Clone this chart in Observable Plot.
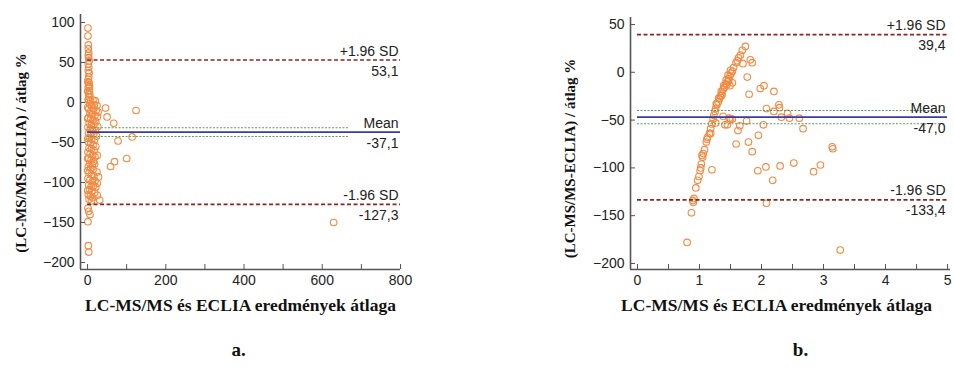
<!DOCTYPE html>
<html><head><meta charset="utf-8">
<script src="https://cdn.jsdelivr.net/npm/d3@7"></script>
<script src="https://cdn.jsdelivr.net/npm/@observablehq/plot@0.6"></script>
<style>
html,body{margin:0;padding:0;background:#fff}
body{width:954px;height:371px;position:relative;overflow:hidden}
#pa,#pb{position:absolute;top:0}
#pa{left:0}#pb{left:480px}
</style></head><body><div id="pa"></div><div id="pb"></div>
<script>
const yTitle = "(LC-MS/MS-ECLIA) / átlag %";
const xTitle = "LC-MS/MS és ECLIA eredmények átlaga";
const refLabels = ["+1.96 SD", "Mean", "-1.96 SD"];

// Panel a
const aRefValues = [53.1, -37.1, -127.3];
const aRefTexts = ["53,1", "-37,1", "-127,3"];
const aCI = [-31.6, -42.5];
const aXTicks = [0, 200, 400, 600, 800];
const aXMinor = [100, 300, 500, 700];
const aYTicks = [100, 50, 0, -50, -100, -150, -200];
const aPoints = [
  [1,93],[1,83],[2,72],[2,67],[3,62],[2,59],[3,56],[4,52],[2,48],[3,44],[2,40],[4,37],[3,32],[2,29],[4,25],[3,22],[2,19],[5,15],[3,11],[4,7],[2,4],[6,10],[5,20],[1,26],[0.5,14],
  [2,3],[8,2],[14,3],[20,2],[5,-2],[11,-4],[17,-3],[24,-4],[3,-8],[9,-10],[15,-8],[22,-10],[27,-12],[6,-14],[12,-15],[19,-16],[25,-18],[2,-19],[8,-21],[14,-22],[21,-24],[4,-26],[10,-28],[17,-27],[26,-30],[1,-31],[7,-33],[13,-34],[20,-35],[3,-38],[9,-40],[16,-39],[23,-42],[5,-44],[11,-46],[18,-47],[2,-49],[8,-51],[14,-53],[21,-55],[4,-57],[10,-58],[17,-60],[25,-66],[1,-62],[7,-64],[13,-66],[19,-68],[3,-70],[9,-72],[15,-74],[6,-76],[12,-78],[18,-77],[2,-80],[8,-82],[14,-84],[24,-87],[4,-88],[10,-90],[16,-92],[28,-93],[1,-95],[6,-97],[12,-99],[19,-98],[25,-101],[3,-103],[9,-105],[15,-104],[21,-106],[5,-109],[11,-111],[18,-113],[2,-115],[7,-117],[13,-119],[25,-116],[31,-122],[4,-121],[10,-123],
  [0.5,-6],[0.5,-45],[0.5,-85],[0.5,-110],[0.5,-20],[0.5,-70],
  [1,-132],[3,-136],[6,-140],[1,-149],[2,-179],[3,-187],
  [46,-7],[50,-18],[67,-26],[78,-48],[114,-43],[124,-10],[100,-70],[69,-74],[59,-80],[629,-150]
];

// Panel b
const bRefValues = [39.4, -47.0, -133.4];
const bRefTexts = ["39,4", "-47,0", "-133,4"];
const bCI = [-40.0, -53.9];
const bXTicks = [0, 1, 2, 3, 4, 5];
const bXMinor = [0.5, 1.5, 2.5, 3.5, 4.5];
const bYTicks = [50, 0, -50, -100, -150, -200];
const bPoints = [
  [0.80,-178],[0.87,-147],[0.90,-136],[0.91,-132],[0.94,-121],[0.97,-113],[0.99,-109],[1.01,-103],[1.02,-100],[1.03,-96],[1.05,-89],[1.06,-85],[1.08,-81],[1.11,-73],[1.13,-68],[1.16,-64],[1.18,-59],[1.20,-54],[1.22,-49],[1.23,-45],[1.25,-41],[1.26,-38],[1.28,-34],[1.30,-31],[1.32,-28],[1.34,-25],[1.36,-22],[1.38,-18],[1.40,-16],[1.42,-12],[1.45,-10],[1.47,-7],[1.49,-4],[1.51,-1],[1.53,1],[1.55,5],[1.59,10],[1.61,12],[1.63,15],[1.66,18],[1.69,23],[1.74,27],
  [1.27,-33],[1.31,-27],[1.35,-20],[1.39,-14],[1.43,-8],[1.46,-3],[1.50,2],[1.36,-24],[1.44,-13],[1.18,-64],[1.12,-70],[1.04,-87],[0.89,-134],
  [1.82,13],[1.85,10],[1.70,9],[1.77,-5],[1.80,-23],[1.98,-17],[2.04,-14],[2.20,-20],[2.08,-38],[2.20,-41],[2.28,-34],[2.29,-37],[2.32,-47],[2.42,-43],[2.45,-48],[2.61,-48],[2.67,-59],[2.03,-55],[1.76,-51],[1.65,-56],[1.62,-61],[1.59,-75],[1.79,-73],[1.85,-83],[1.95,-66],[2.07,-99],[1.94,-103],[2.18,-113],[2.30,-98],[2.52,-95],[2.84,-104],[2.95,-97],[3.14,-78],[3.15,-80],[3.27,-186],[2.08,-137],[1.20,-102],[1.45,-55],[1.41,-55],[1.38,-46],[1.50,-49],[1.53,-49],[1.48,-48],[1.26,-53],[1.53,-11],[1.49,-14],[1.47,-9]
];

const ORANGE = "#f28a42", DARKRED = "#8e2323", BLUE = "#3a3aa8", GREEN = "#5e9a5e", AXIS = "#555";
const SANS = "'Liberation Sans', Arial, sans-serif", SERIF = "'Liberation Serif', 'Times New Roman', serif";

function panel(o) {
  const refs = refLabels.map((l, i) => ({label: l, y: o.refValues[i], text: o.refTexts[i]}));
  return Plot.plot({
    width: o.width, height: 371,
    marginLeft: o.mLeft, marginRight: o.mRight, marginTop: o.mTop, marginBottom: 102,
    x: {domain: o.xDomain}, y: {domain: o.yDomain},
    style: {fontFamily: SANS, fontSize: "14px", color: "#222", background: "#fff"},
    marks: [
      Plot.dot(o.points, {x: d => d[0], y: d => d[1], r: 3.3, stroke: ORANGE, strokeWidth: 1.1}),
      Plot.ruleY(o.ci, {x1: () => 0, x2: () => o.ciEnd, stroke: GREEN, strokeWidth: 1.1, strokeDasharray: "2,1.5"}),
      Plot.ruleY([o.refValues[0], o.refValues[2]], {x1: () => 0, x2: () => o.xEnd, stroke: DARKRED, strokeWidth: 1.7, strokeDasharray: "4,2.5"}),
      Plot.ruleY([o.refValues[1]], {x1: () => 0, x2: () => o.xEnd, stroke: BLUE, strokeWidth: 1.7}),
      Plot.text(refs, {x: () => o.xEnd, y: "y", text: "label", textAnchor: "end", dx: -2, dy: -9, fontSize: 14, fill: "#222"}),
      Plot.text(refs, {x: () => o.xEnd, y: "y", text: "text", textAnchor: "end", dx: -2, dy: 11, fontSize: 14, fill: "#222"}),
      Plot.ruleX([o.xDomain[0]], {stroke: AXIS, strokeWidth: 1.6}),
      Plot.ruleY([o.yDomain[0]], {stroke: AXIS, strokeWidth: 1.6}),
      Plot.axisY(o.yTicks, {anchor: "left", tickSize: -5, tickPadding: 11, stroke: AXIS, fill: "#222", fontSize: 14, label: null}),
      Plot.axisX(o.xTicks, {anchor: "bottom", tickSize: -5, tickPadding: 11, stroke: AXIS, fill: "#222", fontSize: 14, label: null}),
      Plot.axisX(o.xMinor, {anchor: "bottom", tickSize: -5, tickFormat: () => "", stroke: AXIS, label: null}),
      Plot.text([yTitle], {text: d => d, frameAnchor: "left", textAnchor: "middle", rotate: -90, dx: o.yTitleDx, dy: o.yTitleDy, fontFamily: SERIF, fontWeight: "bold", fontSize: 15, fill: "#111"}),
      Plot.text([xTitle], {text: d => d, frameAnchor: "bottom", dx: o.xTitleDx, dy: 41, fontFamily: SERIF, fontWeight: "bold", fontSize: 17.5, fill: "#111"}),
      Plot.text([o.panelLabel], {text: d => d, frameAnchor: "bottom", dx: o.labelDx, dy: 86, fontFamily: SERIF, fontWeight: "bold", fontSize: 19, fill: "#111"})
    ]
  });
}

document.getElementById("pa").append(panel({
  points: aPoints, refValues: aRefValues, refTexts: aRefTexts, ci: aCI, ciEnd: 667, xEnd: 800,
  xDomain: [-18, 800], yDomain: [-208.75, 110], xTicks: aXTicks, xMinor: aXMinor, yTicks: aYTicks,
  width: 420, mLeft: 80, mRight: 20, mTop: 14,
  yTitleDx: -59, yTitleDy: 11, xTitleDx: 0, labelDx: -2, panelLabel: "a."
}));
document.getElementById("pb").append(panel({
  points: bPoints, refValues: bRefValues, refTexts: bRefTexts, ci: bCI, ciEnd: 4.95, xEnd: 5,
  xDomain: [-0.113, 5.048], yDomain: [-206.3, 57.3], xTicks: bXTicks, xMinor: bXMinor, yTicks: bYTicks,
  width: 474, mLeft: 150, mRight: 4, mTop: 17,
  yTitleDx: -60, yTitleDy: 15, xTitleDx: -14, labelDx: 10, panelLabel: "b."
}));
</script>
</body></html>
